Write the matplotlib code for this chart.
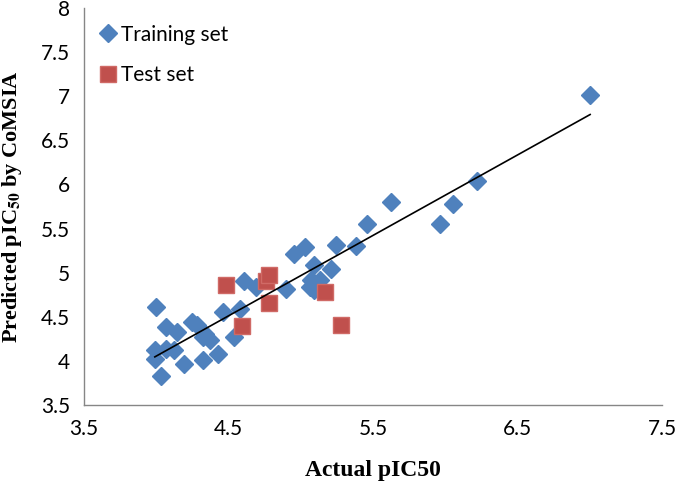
import numpy as np
import matplotlib.pyplot as plt

# training set (actual, predicted)
train_actual = [4.00, 4.03, 3.99, 3.99, 4.07, 4.12, 4.07, 4.14, 4.19, 4.25,
                4.28, 4.32, 4.37, 4.34, 4.32, 4.43, 4.46, 4.54, 4.58, 4.61,
                4.69, 4.90, 4.95, 5.03, 5.24, 5.38, 5.09, 5.21, 5.07, 5.06,
                5.09, 5.13, 5.46, 5.62, 5.96, 6.05, 6.22, 7.00]
train_pred = [4.61, 3.83, 4.12, 4.02, 4.14, 4.12, 4.38, 4.33, 3.96, 4.44,
              4.41, 4.27, 4.24, 4.30, 4.01, 4.08, 4.55, 4.27, 4.59, 4.90,
              4.84, 4.81, 5.21, 5.29, 5.31, 5.30, 5.09, 5.04, 4.92, 4.84,
              4.80, 4.92, 5.55, 5.80, 5.55, 5.78, 6.04, 7.01]

# test set
test_actual = [4.48, 4.59, 4.76, 4.78, 4.78, 5.17, 5.28]
test_pred = [4.86, 4.39, 4.90, 4.97, 4.66, 4.78, 4.41]

x_ticks = [3.5, 4.5, 5.5, 6.5, 7.5]
y_ticks = [3.5, 4, 4.5, 5, 5.5, 6, 6.5, 7, 7.5, 8]

plt.rcParams['font.family'] = ['Lato', 'DejaVu Sans']
plt.rcParams['mathtext.fontset'] = 'stix'

fig = plt.figure(figsize=(6.75, 4.96), dpi=100)
ax = fig.add_axes([0.1244, 0.1835, 0.857, 0.8005])

ax.plot(train_actual, train_pred, linestyle='none', marker='D', markersize=9,
        color='#4F81BD', markeredgecolor='#4F81BD', label='Training set', zorder=3)
ax.plot(test_actual, test_pred, linestyle='none', marker='s', markersize=11,
        color='#C0504D', markeredgecolor='#D06A66', label='Test set', zorder=4)

# linear trendline over training set
slope, intercept = np.polyfit(train_actual, train_pred, 1)
xs = np.array([min(train_actual), max(train_actual)])
ax.plot(xs, slope * xs + intercept, color='black', linewidth=1.2, zorder=5)

ax.set_xlim(3.5, 7.5)
ax.set_ylim(3.5, 8)
ax.set_xticks(x_ticks)
ax.set_xticklabels([f'{v:g}' for v in x_ticks])
ax.set_yticks(y_ticks)
ax.set_yticklabels([f'{v:g}' for v in y_ticks])
ax.tick_params(length=0, labelsize=15, pad=10)
for s in ['top', 'right']:
    ax.spines[s].set_visible(False)
for s in ['left', 'bottom']:
    ax.spines[s].set_color('#868686')
    ax.spines[s].set_linewidth(1.0)

ax.set_xlabel('Actual pIC50', family='Liberation Serif', fontweight='bold',
              fontsize=17, labelpad=15)
ax.set_ylabel(r'Predicted pIC$_{\mathbf{50}}$ by CoMSIA', family='Liberation Serif',
              fontweight='bold', fontsize=16, labelpad=12)

ax.legend(loc='upper left', frameon=False, fontsize=15, handletextpad=0.1,
          labelspacing=1.0, handlelength=1.0, borderaxespad=0.4,
          bbox_to_anchor=(-0.005, 1.0))

fig.savefig('out.png', dpi=100)
